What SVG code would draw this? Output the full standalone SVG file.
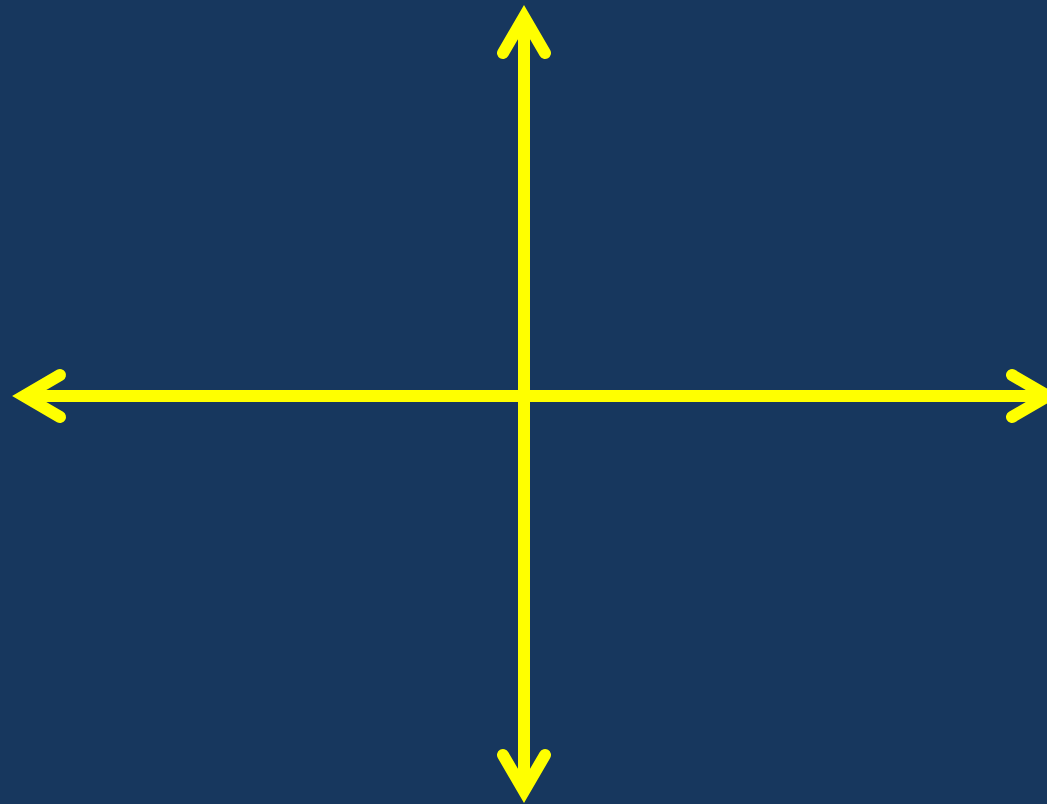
<svg xmlns="http://www.w3.org/2000/svg" width="1047" height="804" viewBox="0 0 1047 804">
  <style>
    .axis { stroke: #ffff00; stroke-width: 12; fill: none; }
    .head { stroke: #ffff00; stroke-width: 12; fill: none; stroke-linecap: round; stroke-linejoin: miter; stroke-miterlimit: 10; }
  </style>
  <defs>
    <marker id="chev" markerUnits="userSpaceOnUse" markerWidth="80" markerHeight="80" refX="0" refY="0" orient="auto-start-reverse" overflow="visible">
      <path class="head" d="M -36 -21 L 0 0 L -36 21"/>
    </marker>
  </defs>
  <rect x="0" y="0" width="1047" height="804" fill="#17375e"/>
  <g id="connectors">
    <line id="x-axis" class="axis" x1="24" y1="396" x2="1048" y2="396" marker-start="url(#chev)" marker-end="url(#chev)"/>
    <line id="y-axis" class="axis" x1="524" y1="17" x2="524" y2="791" marker-start="url(#chev)" marker-end="url(#chev)"/>
  </g>
</svg>
